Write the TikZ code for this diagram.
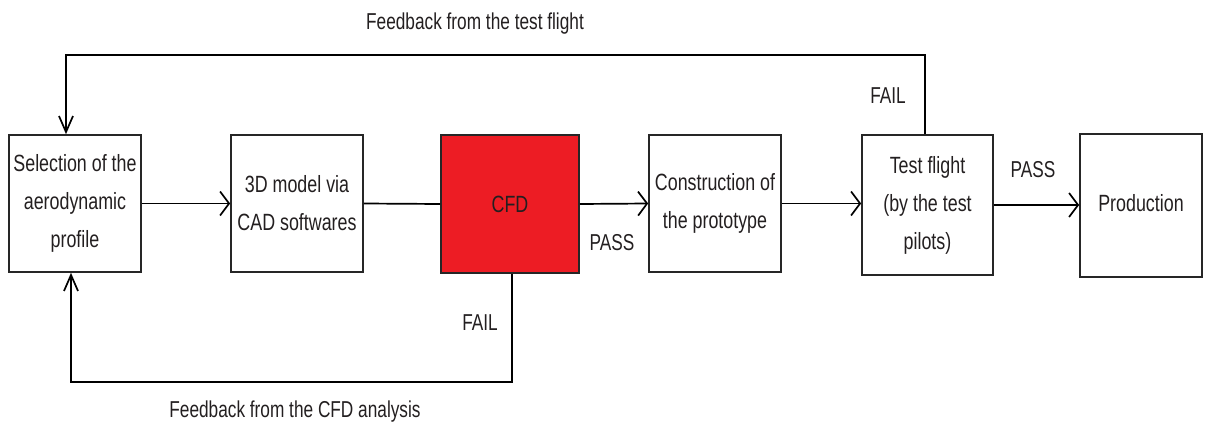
\documentclass[tikz,border=0pt]{standalone}
\usepackage{fontspec}
\setmainfont[FakeStretch=0.76]{Liberation Sans}
\newfontfamily\lblfont[FakeStretch=0.75]{Liberation Sans}
\usetikzlibrary{arrows.meta}
\definecolor{cfdred}{HTML}{ED1C24}
\definecolor{txt}{HTML}{231F20}
\begin{document}
\begin{tikzpicture}[x=1pt,y=-1pt,
  line width=1.7pt,
  box/.style={draw=black!85, line width=1.7pt, align=center, text=txt,
    font=\fontsize{23.5}{38}\selectfont, inner sep=0pt},
  lbl/.style={text=txt, font=\lblfont\fontsize{23}{28}\selectfont, inner sep=0pt},
  ha/.style={-{Straight Barb[length=9pt,width=24pt,line width=1.7pt]}},
  va/.style={-{Straight Barb[length=16pt,width=14pt,line width=1.7pt]}}]
\useasboundingbox (0,0) rectangle (1205,428);
\node[box, minimum width=132pt, minimum height=137pt] (b1) at (75,203.5) {Selection of the\\aerodynamic\\profile};
\node[box, minimum width=132pt, minimum height=137pt] (b2) at (297,203.5) {3D model via\\CAD softwares};
\node[box, fill=cfdred, minimum width=138pt, minimum height=138pt] (cfd) at (510,204) {CFD};
\node[box, minimum width=132pt, minimum height=137pt] (b4) at (715,203.5) {Construction of\\the prototype};
\node[box, minimum width=131pt, minimum height=140pt] (b5) at (927.5,205) {Test flight\\(by the test\\pilots)};
\node[box, minimum width=122pt, minimum height=143pt] (prod) at (1141,205.5) {\raisebox{5pt}{Production}};
\draw[ha] (b1.east) -- (b2.west);
\draw (b2.east) -- (cfd.west);
\draw[ha] (cfd.east) -- (b4.west);
\draw[ha] (b4.east) -- (b5.west |- b4.east);
\draw[ha] (b5.east) -- (prod.west |- b5.east);
\coordinate (tl) at (66,55);
\coordinate (bl) at (71,382);
\draw[va] ([xshift=-2.5pt]b5.north) |- (tl) -- (tl |- b1.north);
\draw[va] ([xshift=2pt]cfd.south) |- (bl) -- (bl |- b1.south);
\node[lbl] (t1) at (475,24) {Feedback from the test flight};
\node[lbl] (f1) at (888,96) {FAIL};
\node[lbl] (f2) at (480,323) {FAIL};
\node[lbl] (t2) at (295,412) {Feedback from the CFD analysis};
\node[lbl] (p1) at (612,243) {PASS};
\node[lbl] (p2) at (1033,170) {PASS};
\end{tikzpicture}
\end{document}
